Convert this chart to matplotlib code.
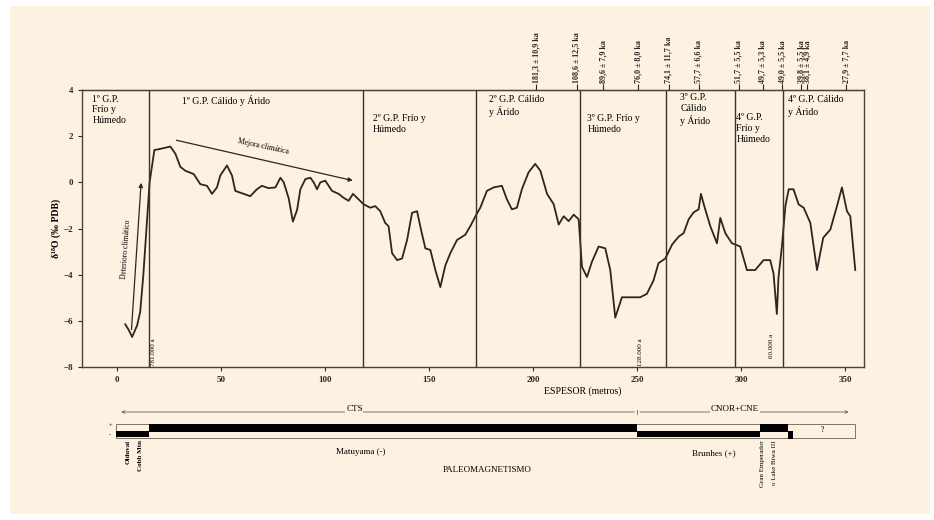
import numpy as np
import matplotlib.pyplot as plt
from matplotlib.patches import Rectangle

plt.rcParams['font.family'] = ['Liberation Serif', 'DejaVu Serif']

# curva isotopica (espesor en m, d18O)
espesor = [3.8, 5.5, 7.1, 9.5, 11.0, 12.5, 14.0, 15.5, 17.8, 20.7, 25.5, 27.9, 30.3, 32.7, 36.7,
           39.9, 43.1, 45.5, 47.9, 49.5, 52.7, 55.1, 56.7, 60.7, 63.9, 67.1, 69.5, 72.6, 76.0,
           78.4, 80.0, 82.4, 84.4, 86.4, 88.0, 90.4, 92.8, 94.4, 96.0, 97.6, 100.0, 101.6,
           103.2, 106.4, 108.8, 111.2, 113.3, 115.2, 118.4, 121.6, 124.0, 126.4, 128.8, 130.4,
           132.1, 134.5, 136.9, 139.3, 141.7, 144.1, 146.0, 148.1, 150.5, 152.9, 155.3, 157.7,
           160.1, 163.3, 167.3, 169.7, 172.6, 174.5, 177.7, 180.9, 184.9, 187.3, 189.7, 192.1,
           194.5, 197.7, 200.9, 203.4, 206.6, 209.8, 212.2, 214.6, 217.0, 219.4, 221.8, 223.4,
           225.8, 228.2, 231.4, 234.6, 237.0, 239.4, 242.6, 248.2, 251.4, 254.6, 257.8, 260.2,
           263.5, 266.7, 269.9, 272.3, 274.7, 277.1, 279.5, 280.6, 282.2, 285.1, 288.3, 289.9,
           292.3, 295.5, 299.5, 302.7, 306.7, 310.7, 313.9, 315.5, 317.1, 317.9, 319.5, 321.2,
           322.8, 325.1, 327.6, 330.0, 333.2, 336.4, 339.4, 342.8, 346.0, 348.4, 350.8, 352.4,
           354.8]
d18o = [-6.15, -6.4, -6.7, -6.2, -5.6, -4.0, -2.0, 0.0, 1.4, 1.45, 1.55, 1.24, 0.67, 0.5, 0.36,
        -0.08, -0.15, -0.5, -0.22, 0.3, 0.73, 0.3, -0.37, -0.5, -0.6, -0.3, -0.15, -0.25, -0.22,
        0.2, 0.0, -0.7, -1.7, -1.2, -0.3, 0.14, 0.2, 0.0, -0.3, 0.0, 0.07, -0.15,
        -0.37, -0.5, -0.67, -0.8, -0.5, -0.67, -0.95, -1.1, -1.03, -1.25, -1.76, -1.9,
        -3.07, -3.37, -3.3, -2.5, -1.32, -1.25, -2.05, -2.86, -2.93, -3.8, -4.54, -3.6,
        -3.07, -2.5, -2.27, -1.9, -1.4, -1.1, -0.37, -0.22, -0.15, -0.74, -1.17, -1.1,
        -0.3, 0.43, 0.8, 0.5, -0.5, -0.95, -1.83, -1.47, -1.68, -1.4, -1.6, -3.66,
        -4.1, -3.44, -2.78, -2.86, -3.8, -5.86, -4.98, -4.98, -4.98, -4.83, -4.25, -3.5,
        -3.3, -2.7, -2.35, -2.2, -1.6, -1.3, -1.17, -0.5, -1.03, -1.9, -2.64, -1.54,
        -2.2, -2.64, -2.78, -3.8, -3.8, -3.37, -3.37, -3.95, -5.7, -4.1, -2.8, -1.03,
        -0.3, -0.3, -0.96, -1.1, -1.76, -3.8, -2.4, -2.05, -1.03, -0.22, -1.25, -1.47,
        -3.8]

limites = [15.4, 118, 172.6, 222.6, 264, 297, 320]
titulos = ['1º G.P.\nFrío y\nHúmedo', '1º G.P. Cálido y Árido', '2º G.P. Frío y\nHúmedo',
           '2º G.P. Cálido\ny Árido', '3º G.P. Frío y\nHúmedo', '3º G.P.\nCálido\ny Árido',
           '4º G.P.\nFrío y\nHúmedo', '4º G.P. Cálido\ny Árido']
titulos_x = [-12, 31.3, 123, 178.8, 226, 270.7, 297.6, 322.6]
titulos_y = [3.8, 3.8, 2.95, 3.8, 2.95, 3.87, 3.0, 3.8]

edades_x = [201.5, 220.8, 233.5, 250.5, 265, 279.5, 298.8, 310.3, 319.7, 328.8, 331.8, 350.5]
edades = ['181,3 ± 10,9 ka', '108,6 ± 12,5 ka', '89,6 ± 7,9 ka', '76,0 ± 8,0 ka',
          '74,1 ± 11,7 ka', '57,7 ± 6,6 ka', '51,7 ± 5,5 ka', '49,7 ± 5,3 ka',
          '49,0 ± 5,5 ka', '39,8 ± 5,5 ka', '38,1 ± 4,9 ka', '27,9 ± 7,7 ka']

fondo = '#fdf2e1'
tinta = '#2b2620'

fig = plt.figure(figsize=(9.34, 5.2), dpi=100)
fig.patch.set_facecolor('white')
fig.patches.append(Rectangle((10 / 934, 6 / 520), 920 / 934, 508 / 520,
                             transform=fig.transFigure, facecolor=fondo,
                             edgecolor='none', zorder=-10))

ax = fig.add_axes([82 / 934, 1 - 367 / 520, 782 / 934, 277 / 520])
ax.set_facecolor(fondo)
ax.set_xlim(-17, 359)
ax.set_ylim(-8, 4)
ax.plot(espesor, d18o, color=tinta, lw=1.3)
for xl in limites:
    ax.axvline(xl, color='#3a352c', lw=1.0)

ax.set_xticks([0, 50, 100, 150, 200, 250, 300, 350])
ax.set_yticks([-8, -6, -4, -2, 0, 2, 4])
ax.tick_params(labelsize=6.5, length=3, width=0.8, colors=tinta)
for lab in ax.get_xticklabels() + ax.get_yticklabels():
    lab.set_fontweight('bold')
for s in ax.spines.values():
    s.set_color('#4a4336')
    s.set_linewidth(1.0)
ax.set_xlabel('ESPESOR (metros)', fontsize=7, labelpad=2, x=0.64)
ax.set_ylabel('δ¹⁸O (‰ PDB)', fontsize=7, labelpad=2, fontweight='bold')

for t, xt, yt in zip(titulos, titulos_x, titulos_y):
    ax.text(xt, yt, t, fontsize=7, va='top', ha='left', color='black', linespacing=1.25)

# flechas de tendencia
ax.annotate('', xy=(11.5, 0.1), xytext=(6.7, -6.5),
            arrowprops=dict(arrowstyle='-|>', lw=0.9, color=tinta, mutation_scale=6))
ax.text(4.4, -2.9, 'Deterioro climático', fontsize=5.5, rotation=86,
        ha='center', va='center')
ax.annotate('', xy=(114.5, 0.05), xytext=(27.1, 1.85),
            arrowprops=dict(arrowstyle='-|>', lw=0.9, color=tinta, mutation_scale=6))
ax.text(70, 1.55, 'Mejora climática', fontsize=5.5, rotation=-12,
        ha='center', va='center')

# edades en el perfil
ax.text(17.4, -7.95, '781.000 a', fontsize=5, rotation=90, ha='center', va='bottom')
ax.text(251.5, -7.95, '128.000 a', fontsize=5, rotation=90, ha='center', va='bottom')
ax.text(314.5, -7.6, '60.000 a', fontsize=5, rotation=90, ha='center', va='bottom')

# dataciones arriba
top = ax.secondary_xaxis('top')
top.set_xticks(edades_x, edades)
top.tick_params(labelsize=5.8, length=4, width=0.8, rotation=90, pad=1, colors=tinta)
for lab in top.get_xticklabels():
    lab.set_fontweight('bold')

# paleomagnetismo
ax2 = fig.add_axes([82 / 934, 1 - 495 / 520, 782 / 934, 95 / 520])
ax2.set_xlim(-17, 359)
ax2.set_ylim(495, 400)
ax2.axis('off')

ax2.annotate('', xy=(0.5, 412), xytext=(250, 412),
             arrowprops=dict(arrowstyle='->', lw=0.6, color='#6a6050', mutation_scale=5))
ax2.annotate('', xy=(353, 412), xytext=(250, 412),
             arrowprops=dict(arrowstyle='->', lw=0.6, color='#6a6050', mutation_scale=5))
ax2.plot([250, 250], [410, 414], color='#6a6050', lw=0.6)
ax2.text(114, 409, 'CTS', fontsize=6.5, ha='center', va='center',
         bbox=dict(facecolor=fondo, edgecolor='none', pad=0.5))
ax2.text(297, 409, 'CNOR+CNE', fontsize=6.5, ha='center', va='center',
         bbox=dict(facecolor=fondo, edgecolor='none', pad=0.5))

ax2.add_patch(Rectangle((-0.5, 424), 355.3, 14, facecolor='none',
                        edgecolor='#6a6050', lw=0.6))
ax2.add_patch(Rectangle((-0.5, 431), 15.9, 6, facecolor='black', edgecolor='none'))
ax2.add_patch(Rectangle((15.4, 424), 234.6, 8, facecolor='black', edgecolor='none'))
ax2.add_patch(Rectangle((250, 431), 59, 6, facecolor='black', edgecolor='none'))
ax2.add_patch(Rectangle((309, 424), 13.6, 8, facecolor='black', edgecolor='none'))
ax2.add_patch(Rectangle((322.6, 431), 2.4, 8, facecolor='black', edgecolor='none'))
ax2.text(339, 430, '?', fontsize=5.5, ha='center', va='center')
ax2.text(-3.5, 426.5, '+', fontsize=4.5, ha='center', va='center')
ax2.text(-3.5, 434.5, '-', fontsize=4.5, ha='center', va='center')

ax2.text(117, 452, 'Matuyama (-)', fontsize=6.5, ha='center', va='center')
ax2.text(287, 453, 'Brunhes (+)', fontsize=6.5, ha='center', va='center')
ax2.text(178, 470, 'PALEOMAGNETISMO', fontsize=6.5, ha='center', va='center')
ax2.text(5.2, 440, 'Olduvai', fontsize=5, rotation=90, ha='center', va='top', fontweight='bold')
ax2.text(11, 440, 'Cobb Mtn', fontsize=5, rotation=90, ha='center', va='top', fontweight='bold')
ax2.text(310, 440, 'Gran Emperador', fontsize=5, rotation=90, ha='center', va='top')
ax2.text(316, 440, 'o Lake Biwa III', fontsize=5, rotation=90, ha='center', va='top')

fig.savefig('out.png', dpi=100, facecolor=fig.get_facecolor())
